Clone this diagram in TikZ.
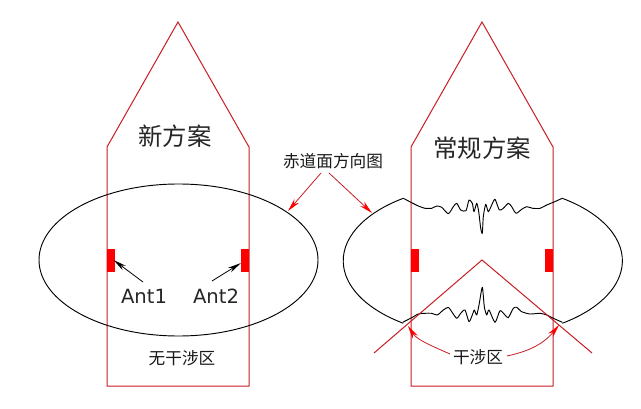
\documentclass[tikz,border=0pt]{standalone}
\usepackage{fontspec}
\setmainfont{DejaVu Sans}
\newfontfamily\cjk{Noto Sans CJK SC}
\usetikzlibrary{arrows.meta}
\definecolor{hull}{RGB}{200,30,35}
\tikzset{
  x=0.75pt,y=-0.75pt,
  hullline/.style={draw=hull,line width=0.75pt,line join=miter},
  pattern/.style={draw=black,line width=0.7pt,line join=round},
  ante/.style={draw=none,fill=red,minimum width=6pt,minimum height=17.25pt,inner sep=0pt,outer sep=0pt},
  blackarrow/.style={draw=black,line width=0.6pt,-{Stealth[length=10pt,width=4pt]}},
  redarrow/.style={draw=hull,line width=0.6pt,-{Stealth[length=10pt,width=4.5pt,red]}},
  bigcn/.style={font=\cjk\fontsize{18.3}{18}\selectfont,inner sep=0pt,text=black!85},
  smallcn/.style={font=\cjk\fontsize{12.5}{12}\selectfont,inner sep=0pt,text=black!90},
  antlabel/.style={font=\fontsize{14.7}{15}\selectfont,inner sep=0pt,text=black!85},
}
\begin{document}
\begin{tikzpicture}
\useasboundingbox[fill=white] (0,0) rectangle (641,409);
% hulls
\draw[hullline] (107,386) -- (107,147) -- (178,22) -- (249,147) -- (249,386) -- cycle;
\draw[hullline] (411,386) -- (411,147) -- (482,22) -- (553,147) -- (553,386) -- cycle;
% left pattern
\draw[pattern] (178.5,260) ellipse [x radius=139.5,y radius=76];
% right pattern
\draw[pattern] (403.3,198.3) arc[start angle=-124.7,end angle=-235.3,x radius=139.5,y radius=76];
\draw[pattern] (562.3,198.3) arc[start angle=-55.3,end angle=55.3,x radius=139.5,y radius=76];
\draw[pattern] plot[smooth,tension=0.4] coordinates {
(403.3,198.3)(411.7,202.7)(418.3,206)(425,208.3)(431.7,208.3)(436.7,206)(441.7,207.3)(448.3,213.7)(453.3,206.7)(456.7,203.3)(460.7,210)(466,210.7)(469,200)(472.3,203.3)(474,211.7)(476.7,203.3)(478.7,211.7)(480.7,228.3)(482.3,233.3)(483.3,216.7)(485.7,204.3)(488.3,211.7)(491.7,205)(495,199.3)(499.3,210)(503.3,208.3)(508.3,203.3)(511.7,206.7)(516,213.3)(521.7,209.3)(526.7,206.7)(532.7,208.3)(540,208.3)(546.7,205)(553.3,202.3)(562.3,198.3)};
\draw[pattern] plot[smooth,tension=0.4] coordinates {
(402.7,322.3)(411.7,317.7)(418.3,314)(425,313.3)(431.7,313.3)(437.3,315)(443.3,310)(448.3,307.3)(451.7,311.7)(456.7,318.3)(460.7,313.3)(465,310)(469,321.7)(472.3,315)(474.3,310)(476.7,315)(479.3,303.3)(482.3,287.3)(484.3,306.7)(486.7,315)(489,310)(495,322.3)(500,310.7)(505,315)(508.3,317.7)(513.3,308.3)(516.7,307.3)(521.7,311.7)(530,314)(540,313.3)(546.7,315)(553.3,318.3)(562.3,322.3)};
% interference wedge
\coordinate (wedgeL) at (374,353);
\coordinate (wedgeT) at (482,260);
\coordinate (wedgeR) at (592,353);
\draw[hullline] (wedgeL) -- (wedgeT) -- (wedgeR);
% antennas
\node[ante] (a1) at (111,260.5) {};
\node[ante] (a2) at (245,260.5) {};
\node[ante] (a3) at (415,260.5) {};
\node[ante] (a4) at (549,260.5) {};
% labels
\node[bigcn] (newplan) at (175,136) {新方案};
\node[bigcn] (oldplan) at (482,148.5) {常规方案};
\node[smallcn] (pattern) at (333,161) {赤道面方向图};
\node[smallcn] (noint) at (182,358) {无干涉区};
\node[smallcn] (inter) at (478,357) {干涉区};
\node[antlabel] (ant1) at (144,296) {Ant1};
\node[antlabel] (ant2) at (216,296) {Ant2};
% arrow ends
\coordinate (t1) at (113.5,260);
\coordinate (t2) at (241,263);
\coordinate (s1) at (143,282);
\coordinate (s2) at (212,281);
\coordinate (pL) at (321,173);
\coordinate (pR) at (329,173);
\coordinate (eL) at (288,211);
\coordinate (eR) at (372,213);
\coordinate (iL) at (408,326);
\coordinate (iR) at (559,325);
\coordinate (jL) at (450,354);
\coordinate (jR) at (507,356);
% arrows
\draw[blackarrow] (s1) -- (t1);
\draw[blackarrow] (s2) -- (t2);
\draw[redarrow] (pL) -- (eL);
\draw[redarrow] (pR) -- (eR);
\draw[redarrow] (jL) .. controls (432,346) and (417,340) .. (iL);
\draw[redarrow] (jR) .. controls (525,352) and (542,346) .. (iR);
\end{tikzpicture}
\end{document}
